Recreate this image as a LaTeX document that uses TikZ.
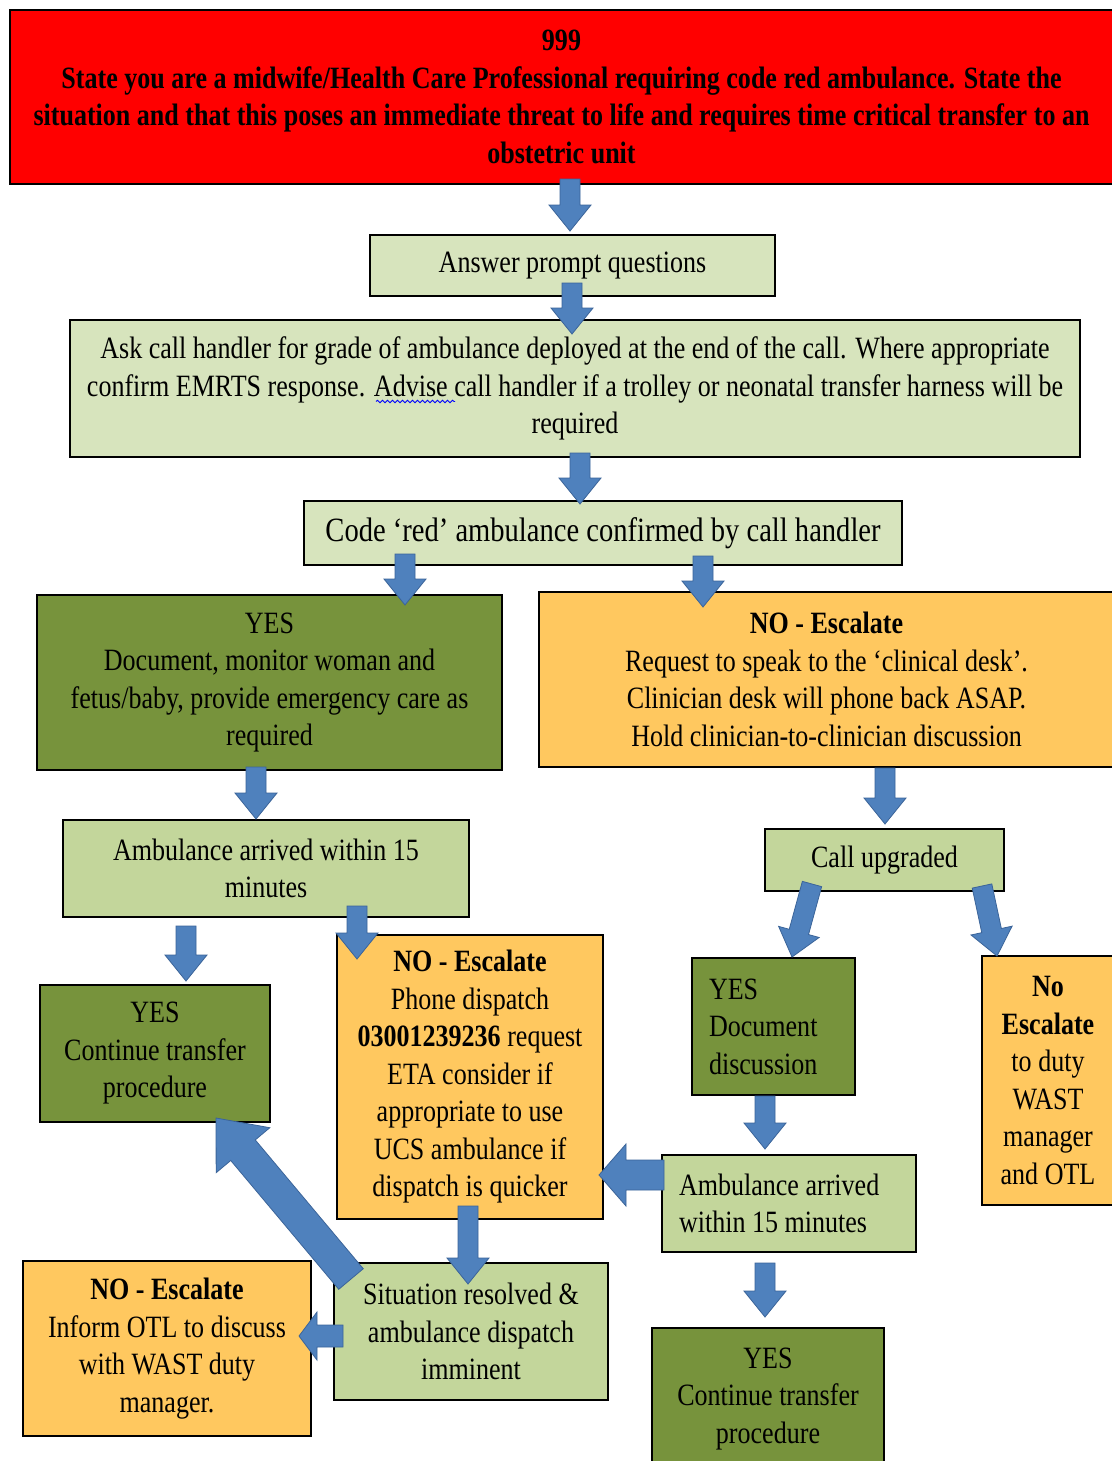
\documentclass[tikz,border=0pt]{standalone}
\usepackage{fontspec}
\setmainfont{Liberation Serif}[FakeStretch=0.84]
\usetikzlibrary{calc,decorations.pathmorphing}
\definecolor{redbox}{HTML}{FF0000}
\definecolor{lgreen}{HTML}{D7E4BD}
\definecolor{mgreen}{HTML}{C3D69B}
\definecolor{dgreen}{HTML}{77933C}
\definecolor{gold}{HTML}{FFC85F}
\definecolor{ablue}{HTML}{4F81BD}
\definecolor{ablueedge}{HTML}{3B6499}
\tikzset{
  box/.style={draw=black, line width=2pt, rectangle, inner sep=0pt, align=center,
    font=\fontsize{31}{37.5}\selectfont},
  lbox/.style={box, align=flush left, inner xsep=17pt},
  fatarrow/.style={fill=ablue, draw=ablueedge, line width=0.8pt, line join=miter},
}
\newcommand\fatarr[5]{%
  \path (#1) coordinate (fa-s) (#2) coordinate (fa-e);
  \pgfpointdiff{\pgfpointanchor{fa-s}{center}}{\pgfpointanchor{fa-e}{center}}%
  \pgfgetlastxy{\FAdx}{\FAdy}%
  \pgfmathsetmacro\FAang{atan2(\FAdy,\FAdx)}%
  \pgfmathsetmacro\FAlen{veclen(\FAdx,\FAdy)}%
  \pgfmathsetmacro\FAb{\FAlen-#5}%
  \filldraw[fatarrow, shift={(fa-s)}, rotate=\FAang]
    (0pt,-#3pt) -- (\FAb pt,-#3pt) -- (\FAb pt,-#4pt) -- (\FAlen pt,0pt)
    -- (\FAb pt,#4pt) -- (\FAb pt,#3pt) -- (0pt,#3pt) -- cycle;
}
\begin{document}
\begin{tikzpicture}[x=1pt,y=-1pt]
\useasboundingbox[fill=white] (0,0) rectangle (1111,1461);

\node[box, fill=redbox, minimum width=1103, minimum height=174, font=\fontsize{31}{37.5}\selectfont\bfseries] (red) at (561.5,97)
  {999\\State you are a midwife/Health Care Professional requiring code red ambulance. State the\\situation and that this poses an immediate threat to life and requires time critical transfer to an\\obstetric unit};
\node[box, fill=lgreen, minimum width=405, minimum height=61] (answer) at (572.5,265.5) {Answer prompt questions};
\node[box, fill=lgreen, minimum width=1010, minimum height=137] (ask) at (575,388.5)
  {Ask call handler for grade of ambulance deployed at the end of the call. Where appropriate\\confirm EMRTS response. Advise call handler if a trolley or neonatal transfer harness will be\\required};
\node[box, fill=lgreen, minimum width=598, minimum height=64, font=\fontsize{34}{40}\selectfont] (code) at (603,533)
  {Code ‘red’ ambulance confirmed by call handler};
\node[box, fill=dgreen, minimum width=465, minimum height=175] (yesdoc) at (269.5,682.5)
  {YES\\Document, monitor woman and\\fetus/baby, provide emergency care as\\required};
\node[box, fill=gold, minimum width=575, minimum height=175] (noesc) at (826.5,679.5)
  {\textbf{NO - Escalate}\\Request to speak to the ‘clinical desk’.\\Clinician desk will phone back ASAP.\\Hold clinician-to-clinician discussion};
\node[box, fill=mgreen, minimum width=406, minimum height=97] (amb1) at (266,868.5)
  {Ambulance arrived within 15\\minutes};
\node[box, fill=mgreen, minimum width=239, minimum height=62] (upg) at (884.5,860) {Call upgraded};
\node[box, fill=dgreen, minimum width=230, minimum height=137] (yescont1) at (155,1053.5)
  {YES\\Continue transfer\\procedure};
\node[box, fill=gold, minimum width=266, minimum height=284] (nophone) at (470,1077)
  {\textbf{NO - Escalate}\\Phone dispatch\\\textbf{03001239236} request\\ETA consider if\\appropriate to use\\UCS ambulance if\\dispatch is quicker};
\node[lbox, fill=dgreen, text width=129, minimum height=137] (yesdisc) at (773.5,1026.5)
  {YES\\Document\\discussion};
\node[box, fill=gold, minimum width=132, minimum height=249] (noduty) at (1048,1080.5)
  {\textbf{No}\\\textbf{Escalate}\\to duty\\WAST\\manager\\and OTL};
\node[lbox, fill=mgreen, text width=220, minimum height=97] (amb2) at (789,1203.5)
  {Ambulance arrived\\within 15 minutes};
\node[box, fill=mgreen, minimum width=274, minimum height=137] (sit) at (471,1331.5)
  {Situation resolved \&\\ambulance dispatch\\imminent};
\node[box, fill=gold, minimum width=288, minimum height=175] (noinform) at (167,1348.5)
  {\textbf{NO - Escalate}\\Inform OTL to discuss\\with WAST duty\\manager.};
\node[box, fill=dgreen, minimum width=232, minimum height=142] (yescont2) at (768,1399)
  {YES\\Continue transfer\\procedure};

% spell-check wave under "Advise"
\draw[blue, line width=0.9pt, decorate, decoration={snake, amplitude=1.2pt, segment length=5pt}]
  ($(ask.center)+(-199,13)$) -- ($(ask.center)+(-120,13)$);

% block arrows
\fatarr{$(red.south)+(8.5,-6)$}{$(answer.north)+(-2.5,-3)$}{10}{21}{26}
\fatarr{$(answer.south)+(-0.5,-14)$}{$(ask.north)+(-3,15)$}{10}{21}{26}
\fatarr{$(ask.south)+(5,-5)$}{$(code.north)+(-23,4)$}{10}{21}{26}
\fatarr{$(code.south)+(-198,-12)$}{$(yesdoc.north)+(135.5,11)$}{10}{21}{26}
\fatarr{$(code.south)+(100,-10)$}{$(noesc.north)+(-123.5,16)$}{10}{21}{26}
\fatarr{$(yesdoc.south)+(-13.5,-4)$}{$(amb1.north)+(-10,0)$}{10}{21}{26}
\fatarr{$(noesc.south)+(58.5,0)$}{$(upg.north)+(0.5,-4)$}{10}{21}{26}
\fatarr{$(amb1.south)+(-80,8)$}{$(yescont1.north)+(31,-3)$}{10}{21}{26}
\fatarr{$(amb1.south)+(91,-12)$}{$(nophone.north)+(-113,25)$}{10}{21}{26}
\fatarr{$(upg.south)+(-72.5,-8)$}{$(yesdisc.north)+(18.5,0)$}{10}{21}{26}
\fatarr{$(upg.south)+(97.5,-6)$}{$(noduty.north)+(-51,1)$}{10}{21}{26}
\fatarr{$(yesdisc.south)+(-8.5,0)$}{$(amb2.north)+(-24,-5)$}{10}{21}{26}
\fatarr{$(amb2.west)+(3,-28.5)$}{$(nophone.east)+(-5,98)$}{15}{31}{27}
\fatarr{$(nophone.south)+(-2,-14)$}{$(sit.north)+(-3,22)$}{10}{21}{26}
\fatarr{$(amb2.south)+(-24,10)$}{$(yescont2.north)+(-3,-10)$}{10}{21}{26}
\fatarr{$(sit.west)+(10,4.5)$}{$(noinform.east)+(-13,-12.5)$}{11}{24}{18}
\fatarr{$(sit.north west)+(18,17)$}{$(yescont1.south east)+(-55,-5)$}{16}{35}{42}
\end{tikzpicture}
\end{document}
